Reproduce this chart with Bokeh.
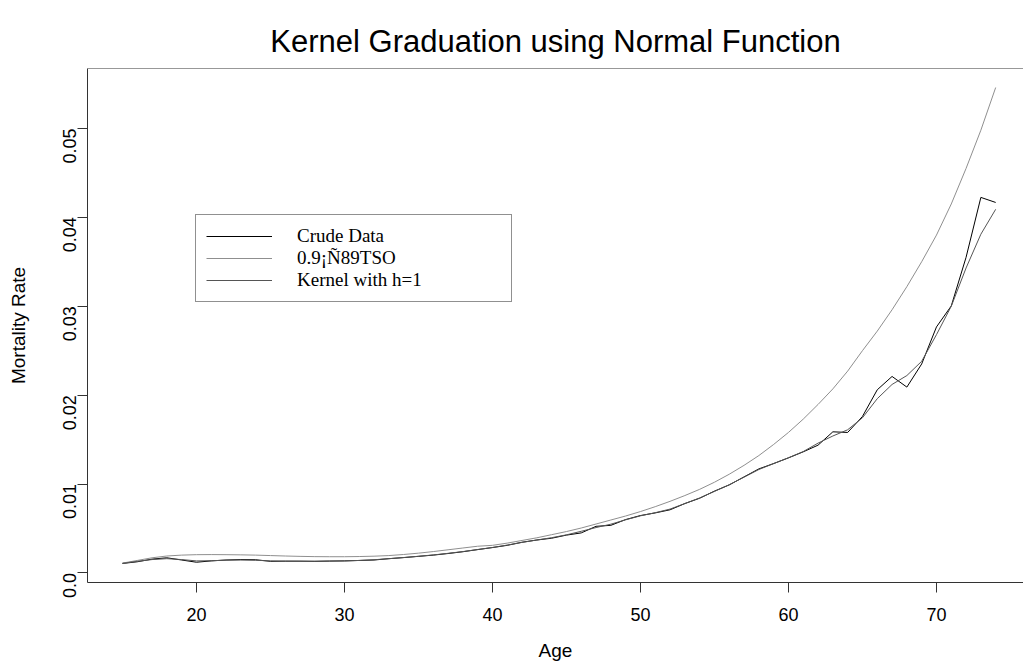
import math
from bokeh.plotting import figure
from bokeh.models import FixedTicker, Span, Legend, LegendItem, Range1d
from bokeh.embed import file_html
from bokeh.resources import INLINE

# ---------------- data ----------------
ages = list(range(15, 75))

crude = [0.00106, 0.00125, 0.00155, 0.00170, 0.00145, 0.00120, 0.00135, 0.00145, 0.00150, 0.00148,
         0.00130, 0.00132, 0.00132, 0.00130, 0.00133, 0.00135, 0.00140, 0.00145, 0.00160, 0.00172,
         0.00186, 0.00200, 0.00218, 0.00238, 0.00262, 0.00285, 0.00310, 0.00345, 0.00370, 0.00390,
         0.00425, 0.00450, 0.00524, 0.00535, 0.00600, 0.00645, 0.00675, 0.00710, 0.00780, 0.00840,
         0.00920, 0.00990, 0.01080, 0.01170, 0.01230, 0.01294, 0.01362, 0.01437, 0.01587, 0.01580,
         0.01760, 0.02060, 0.02210, 0.02090, 0.02350, 0.02767, 0.03003, 0.03550, 0.04224, 0.04167]

tso09 = [0.00110, 0.00140, 0.00170, 0.00190, 0.00200, 0.00205, 0.00206, 0.00205, 0.00203, 0.00200,
         0.00195, 0.00190, 0.00186, 0.00183, 0.00182, 0.00182, 0.00184, 0.00188, 0.00195, 0.00207,
         0.00222, 0.00240, 0.00260, 0.00280, 0.00300, 0.00310, 0.00335, 0.00365, 0.00395, 0.00430,
         0.00465, 0.00505, 0.00550, 0.00595, 0.00640, 0.00690, 0.00745, 0.00805, 0.00870, 0.00940,
         0.01020, 0.01110, 0.01210, 0.01320, 0.01445, 0.01580, 0.01730, 0.01895, 0.02070, 0.02270,
         0.02500, 0.02720, 0.02960, 0.03220, 0.03500, 0.03800, 0.04150, 0.04550, 0.04980, 0.05460]

kernel = [0.00108, 0.00130, 0.00150, 0.00160, 0.00150, 0.00135, 0.00137, 0.00143, 0.00145, 0.00142,
          0.00135, 0.00132, 0.00131, 0.00131, 0.00133, 0.00135, 0.00140, 0.00148, 0.00160, 0.00173,
          0.00187, 0.00202, 0.00220, 0.00240, 0.00263, 0.00286, 0.00313, 0.00343, 0.00370, 0.00396,
          0.00428, 0.00468, 0.00510, 0.00548, 0.00597, 0.00642, 0.00677, 0.00718, 0.00780, 0.00843,
          0.00917, 0.00992, 0.01077, 0.01163, 0.01230, 0.01295, 0.01365, 0.01460, 0.01540, 0.01610,
          0.01745, 0.01960, 0.02120, 0.02220, 0.02380, 0.02680, 0.03000, 0.03430, 0.03810, 0.04090]

x_ticks = [20, 30, 40, 50, 60, 70]
y_ticks = [0.0, 0.01, 0.02, 0.03, 0.04, 0.05]
y_tick_labels = ["0.0", "0.01", "0.02", "0.03", "0.04", "0.05"]

series_names = ["Crude Data", "0.9\u00a1\u00d189TSO", "Kernel with h=1"]

# ---------------- figure ----------------
y_lo, y_hi = -0.00108, 0.05674
p = figure(width=1023, height=665, output_backend="svg", toolbar_location=None,
           x_range=Range1d(12.64, 75.88), y_range=Range1d(y_lo, y_hi),
           min_border_left=87, min_border_right=0, min_border_top=68, min_border_bottom=83,
           title="Kernel Graduation using Normal Function")

p.background_fill_color = "white"
p.border_fill_color = "white"
p.outline_line_color = None
p.xgrid.visible = False
p.ygrid.visible = False

p.title.align = "center"
p.title.text_font = "Liberation Sans"
p.title.text_font_size = "31px"
p.title.text_font_style = "normal"
p.title.text_color = "#000000"
p.title.standoff = 20

frame_col = "#333333"
for ax in (p.xaxis[0], p.yaxis[0]):
    ax.axis_line_color = frame_col
    ax.axis_line_width = 1
    ax.major_tick_line_color = frame_col
    ax.major_tick_in = 0
    ax.major_tick_out = 10
    ax.minor_tick_line_color = None
    ax.major_label_text_font = "Liberation Sans"
    ax.major_label_text_font_size = "18px"
    ax.major_label_text_color = "#000000"
    ax.axis_label_text_font = "Liberation Sans"
    ax.axis_label_text_font_size = "19px"
    ax.axis_label_text_font_style = "normal"
    ax.axis_label_text_color = "#000000"

p.xaxis.ticker = FixedTicker(ticks=x_ticks)
p.xaxis.axis_label = "Age"
p.xaxis.major_label_standoff = 15
p.xaxis.axis_label_standoff = 16

p.yaxis.ticker = FixedTicker(ticks=y_ticks)
p.yaxis.major_label_overrides = {t: l for t, l in zip(y_ticks, y_tick_labels)}
p.yaxis.major_label_orientation = math.pi / 2
p.yaxis.axis_label = "Mortality Rate"
p.yaxis.major_label_standoff = 8
p.yaxis.axis_label_standoff = 25

# top border of the box
p.add_layout(Span(location=y_hi, dimension="width", line_color=frame_col, line_width=1))

r_crude = p.line(ages, crude, line_color="#000000", line_width=1)
r_tso = p.line(ages, tso09, line_color="#8f8f8f", line_width=1)
r_kern = p.line(ages, kernel, line_color="#555555", line_width=1)

legend = Legend(items=[LegendItem(label=series_names[0], renderers=[r_crude]),
                       LegendItem(label=series_names[1], renderers=[r_tso]),
                       LegendItem(label=series_names[2], renderers=[r_kern])],
                location=(108, 280))
legend.label_text_font = "Liberation Serif"
legend.label_text_font_size = "19px"
legend.label_text_color = "#000000"
legend.border_line_color = "#222222"
legend.border_line_width = 1
legend.background_fill_color = "white"
legend.background_fill_alpha = 1.0
legend.padding = 10
legend.spacing = 0
legend.margin = 0
legend.glyph_width = 66
legend.glyph_height = 22
legend.label_height = 22
legend.label_standoff = 25
legend.label_width = 204
p.add_layout(legend)

open("out.html", "w").write(file_html(p, INLINE))
